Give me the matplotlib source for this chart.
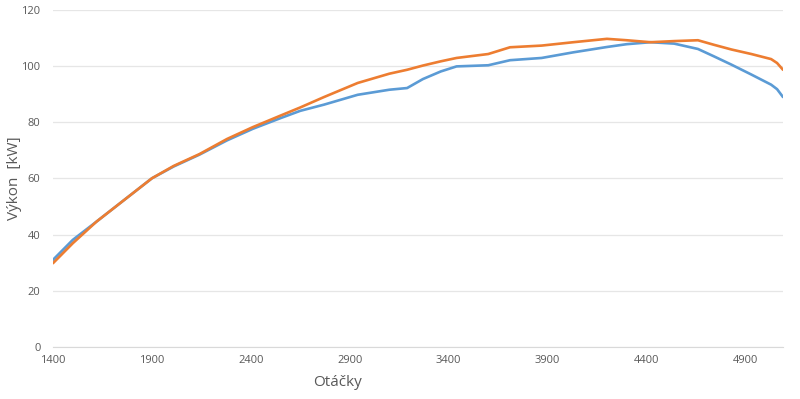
import numpy as np
import matplotlib
matplotlib.use("Agg")
import matplotlib.pyplot as plt

plt.rcParams['font.family'] = ['Open Sans', 'DejaVu Sans']

# otacky a vykon
otacky = [1400, 1500, 1620, 1760, 1900, 2010, 2140, 2280, 2410, 2550, 2650,
          2770, 2940, 3100, 3190, 3270, 3360, 3440, 3600, 3710, 3870, 4030,
          4200, 4300, 4420, 4540, 4660, 4740, 4830, 4930, 5030, 5060, 5090]
vykon_modra = [31.0, 38.1, 44.6, 52.3, 60.0, 64.2, 68.4, 73.5, 77.6, 81.4, 84.0,
               86.2, 89.7, 91.5, 92.1, 95.3, 98.0, 99.8, 100.2, 102.0, 102.8, 104.8,
               106.7, 107.7, 108.4, 107.9, 106.0, 103.4, 100.4, 96.9, 93.3, 91.7, 88.9]
vykon_oranz = [29.8, 36.9, 44.6, 52.3, 60.0, 64.4, 68.6, 74.0, 78.2, 82.3, 85.2,
               88.9, 93.9, 97.2, 98.6, 100.1, 101.6, 102.8, 104.2, 106.6, 107.2, 108.4,
               109.6, 109.1, 108.4, 108.8, 109.1, 107.5, 105.8, 104.2, 102.4, 101.0, 98.6]

x_ticks = [1400, 1900, 2400, 2900, 3400, 3900, 4400, 4900]
y_ticks = [0, 20, 40, 60, 80, 100, 120]

fig = plt.figure(figsize=(8, 3.99), dpi=100)
ax = fig.add_axes([53/800, 52/399, 730/800, 337.4/399])

ax.plot(otacky, vykon_modra, color='#5B9BD5', lw=1.9, solid_capstyle='round')
ax.plot(otacky, vykon_oranz, color='#ED7D31', lw=1.9, solid_capstyle='round')

ax.set_xlim(1400, 5090)
ax.set_ylim(0, 120)
ax.set_xticks(x_ticks)
ax.set_yticks(y_ticks)
ax.grid(axis='y', color='#E6E6E6', lw=0.9)
ax.set_axisbelow(True)
for s in ['top', 'right', 'left']:
    ax.spines[s].set_visible(False)
ax.spines['bottom'].set_color('#D9D9D9')
ax.tick_params(length=0, labelsize=8, labelcolor='#595959', pad=6)
ax.tick_params(axis='y', pad=9)

# popisky os
fig.text(15/800, 1 - 178/399, 'Výkon  [kW]', fontsize=11, color='#595959',
         ha='center', va='center', rotation=90)
fig.text(338/800, 1 - 383/399, 'Otáčky', fontsize=11, color='#595959',
         ha='center', va='center')

fig.savefig('out.png', dpi=100, facecolor='white')
